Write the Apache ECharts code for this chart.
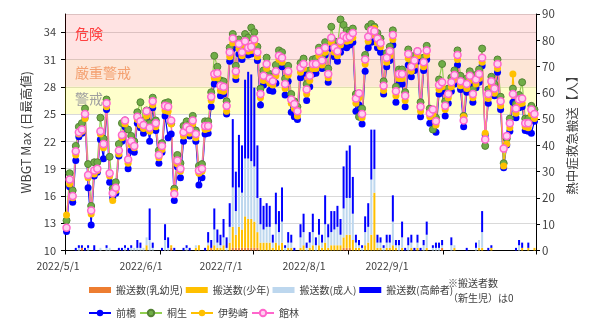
<!DOCTYPE html>
<html>
<head>
<meta charset="utf-8">
<script src="https://cdn.jsdelivr.net/npm/echarts@6/dist/echarts.min.js"></script>
<style>
html, body { margin: 0; padding: 0; background: #ffffff; }
#chart { width: 600px; height: 328px; }
</style>
</head>
<body>
<div id="chart"></div>
<script>
// Daily categories 2022/5/1 .. 2022/9/30
const months = [[5, 31], [6, 30], [7, 31], [8, 31], [9, 30]];
const dates = [];
for (const [m, n] of months) for (let d = 1; d <= n; d++) dates.push('2022/' + m + '/' + d);
const monthStartIdx = [0, 31, 61, 92, 123];
const dateTickLabels = ['2022/5/1', '2022/6/1', '2022/7/1', '2022/8/1', '2022/9/1'];

// WBGT daily maximum per city
const maebashi = [
  12.1,17.0,15.3,19.9,22.5,22.9,24.6,16.9,12.8,18.2,
  18.6,22.2,20.1,25.5,17.5,15.8,16.3,20.4,22.0,23.6,
  19.0,21.0,20.8,24.0,23.5,22.9,24.5,22.0,25.7,23.2,
  19.6,20.8,24.8,22.4,22.8,15.5,19.2,18.0,22.0,22.9,
  22.6,23.5,22.0,17.2,18.0,22.8,22.9,25.8,28.3,28.7,
  27.0,27.2,25.0,30.8,32.2,28.8,31.6,31.0,32.1,31.5,
  31.6,32.3,30.9,26.0,28.2,29.5,27.6,27.5,28.4,30.3,
  30.2,27.1,28.6,25.2,24.7,24.4,29.0,29.5,26.5,28.0,
  29.4,29.5,30.8,30.0,31.5,28.5,32.2,31.3,30.8,31.8,
  32.4,32.3,32.6,32.9,25.3,26.0,23.9,29.7,32.3,32.9,
  33.0,32.3,31.8,27.2,30.2,30.9,32.6,26.3,28.3,28.3,
  25.8,30.4,29.1,29.8,30.8,24.7,29.8,31.0,24.0,24.3,
  23.0,27.2,27.5,24.8,26.2,27.5,28.3,30.4,27.7,23.6,
  27.4,28.3,26.3,27.9,28.5,30.3,22.7,26.2,27.8,27.0,
  29.6,25.5,19.1,21.6,23.1,26.3,24.6,25.7,25.8,23.2,
  23.1,22.9,24.2
];
const kiryu = [
  13.3,18.5,16.6,21.5,23.6,24.0,25.6,19.5,14.9,19.7,
  19.7,24.6,22.3,26.6,20.3,16.8,17.5,21.7,24.0,24.3,
  23.3,22.6,22.0,25.2,26.3,24.3,25.4,24.0,26.8,24.3,
  21.0,21.8,26.2,26.3,24.0,16.8,20.5,19.6,23.7,24.2,
  23.9,24.8,23.2,19.3,19.5,24.2,24.2,27.4,31.4,30.2,
  28.7,28.6,26.4,32.3,33.8,30.3,33.2,32.4,33.8,33.4,
  34.5,34.0,32.4,27.8,29.8,31.2,29.4,29.1,30.4,32.0,
  31.8,28.9,30.3,27.2,26.4,25.8,30.6,31.1,28.3,29.8,
  31.0,31.1,32.3,31.4,32.9,30.0,34.6,33.0,32.5,35.4,
  34.8,34.2,34.0,34.4,27.2,24.7,25.6,31.5,34.6,34.9,
  34.6,33.9,33.3,28.6,31.7,32.4,34.2,28.0,29.9,29.9,
  27.4,32.1,30.8,31.4,31.9,26.3,31.2,32.5,25.6,23.3,
  24.6,28.8,30.5,26.4,27.8,29.0,29.8,32.0,29.2,24.8,
  28.9,29.7,27.7,29.3,29.9,32.2,21.5,27.7,29.1,28.3,
  31.0,26.9,19.6,22.3,24.5,27.8,26.1,27.1,28.5,24.5,
  24.5,25.9,25.5
];
const isesaki = [
  13.9,17.3,15.8,20.5,22.8,23.1,24.5,18.0,14.0,18.4,
  18.8,22.8,21.3,25.8,18.2,15.5,16.6,20.6,22.4,23.9,
  19.6,21.6,21.3,24.4,23.8,23.4,24.8,23.1,26.0,23.6,
  20.2,21.1,25.4,25.3,23.9,16.5,19.5,18.7,22.6,23.3,
  22.9,23.9,22.4,18.5,18.7,23.3,23.4,26.5,29.0,29.0,
  27.6,27.5,25.3,31.3,32.8,29.2,32.2,31.4,32.6,31.9,
  32.0,32.8,31.3,26.8,28.7,30.0,28.4,28.2,29.2,31.0,
  30.7,27.8,29.3,26.2,25.6,24.8,29.6,30.0,27.2,28.7,
  30.0,30.0,31.4,30.4,31.8,29.0,32.9,31.8,31.4,32.6,
  33.1,33.0,33.1,33.4,26.2,26.8,24.6,30.5,33.0,33.7,
  34.4,32.8,32.4,27.6,30.7,31.4,33.2,27.0,28.9,28.9,
  26.5,31.1,29.7,30.4,31.4,25.3,30.2,31.5,24.7,25.0,
  23.8,27.7,28.0,25.5,26.8,28.0,28.8,31.0,28.1,24.7,
  27.8,28.7,26.8,28.3,28.9,30.7,22.9,26.7,28.1,27.3,
  30.0,25.9,19.3,21.7,23.5,29.4,25.1,26.1,26.2,23.6,
  23.5,25.0,24.5
];
const tatebayashi = [
  12.5,17.8,16.0,20.9,23.0,23.3,25.0,18.3,14.4,18.8,
  19.0,23.1,21.7,26.2,18.5,16.3,16.9,21.0,22.7,24.3,
  20.0,22.0,21.5,24.7,24.2,23.8,25.3,23.5,26.4,24.0,
  20.5,21.5,25.9,25.8,24.3,16.2,19.9,19.0,23.0,23.6,
  23.3,24.3,22.8,18.8,19.0,23.7,23.7,26.9,29.4,29.5,
  28.1,28.0,25.9,31.8,33.3,29.7,32.7,31.8,33.0,32.3,
  32.4,33.2,31.8,27.2,29.2,30.5,28.9,28.6,29.7,31.4,
  31.2,28.3,29.7,26.6,26.1,25.3,30.1,30.5,27.7,29.2,
  30.5,30.5,31.9,30.9,32.3,29.4,33.4,32.3,31.9,33.0,
  33.6,33.4,33.5,33.9,26.7,27.3,25.0,31.0,33.5,34.2,
  34.1,33.3,32.8,28.1,31.2,31.9,33.7,27.5,29.4,29.4,
  27.0,31.6,30.2,30.9,31.9,25.8,30.7,32.0,25.1,25.5,
  24.2,28.2,28.5,25.9,27.2,28.5,29.3,31.5,28.6,24.3,
  28.3,29.2,27.2,28.8,29.4,31.2,22.2,27.2,28.6,27.8,
  30.5,26.4,21.2,22.6,24.0,27.2,25.6,26.6,26.7,24.0,
  24.0,25.5,25.0
];

// Heatstroke ambulance transports per day, by age group
const infant = [
  0,0,0,0,0,1,0,0,0,0, 0,0,0,0,0,0,0,0,0,0, 0,0,0,0,0,0,0,0,0,0,
  0,0,0,0,1,0,0,0,0,0, 0,0,0,0,0,0,0,1,0,0, 0,0,0,0,1,1,1,1,1,1,
  1,1,1,0,0,0,0,0,0,0, 0,0,0,0,0,0,0,0,0,0, 0,0,0,0,0,0,0,0,0,0,
  1,1,1,0,0,0,0,0,0,0, 0,0,0,0,0,0,0,0,0,0, 0,0,0,0,0,0,0,0,0,0,
  0,0,1,0,0,0,0,0,0,0, 0,0,0,0,0,0,0,0,0,0, 0,0,0,0,0,0,0,0,0,0,
  0,0,0
];
const youth = [
  0,0,0,0,0,0,0,0,0,0, 0,0,0,0,0,0,0,0,0,0, 0,0,0,0,0,0,2,0,0,0,
  0,0,0,0,1,0,0,0,0,0, 0,0,1,2,0,0,2,0,2,1, 1,2,0,3,8,5,8,7,12,11,
  11,10,6,3,3,3,3,1,3,2, 3,0,1,1,0,0,1,2,0,1, 2,0,2,1,3,1,2,2,2,2,
  4,5,5,4,1,1,0,2,3,6, 22,1,1,0,1,1,2,1,0,1, 0,0,1,0,1,0,0,1,0,0,
  0,0,0,0,0,0,1,0,0,0, 0,0,0,0,1,1,0,0,1,0, 0,0,0,0,0,0,0,0,1,0,
  1,0,1
];
const adult = [
  0,0,0,0,1,0,0,1,0,0, 0,1,0,1,1,0,0,0,0,1, 0,1,1,1,1,1,3,4,1,0,
  0,0,4,1,0,0,0,0,0,1, 0,0,1,0,0,0,1,0,6,2, 1,3,1,6,15,9,15,14,22,23,
  22,21,13,7,5,6,6,2,7,5, 8,1,2,2,0,0,4,5,1,2, 5,2,4,2,7,4,5,6,7,4,
  11,14,14,10,2,1,1,5,6,21, 9,2,2,1,2,2,9,1,2,4, 0,2,2,0,2,0,2,5,0,1,
  1,1,1,0,0,2,1,0,0,0, 0,0,0,1,3,6,0,0,0,0, 0,0,0,0,0,0,0,2,0,0,
  0,0,0
];
const elderly = [
  0,0,0,1,1,1,1,1,0,2, 0,0,0,1,0,0,0,1,1,1, 1,1,0,3,2,0,0,12,2,0,
  0,1,6,4,0,1,0,0,1,1, 1,0,0,0,0,1,4,3,8,5, 4,7,4,9,26,15,20,18,30,33,
  33,30,20,10,9,9,8,3,12,8, 13,1,4,3,1,0,5,7,2,4, 7,3,6,3,11,5,8,7,8,6,
  16,18,20,14,3,2,1,6,9,19, 15,3,2,1,3,3,10,2,2,6, 1,3,3,1,3,1,2,5,0,1,
  2,2,2,0,0,3,0,0,0,0, 1,0,0,2,0,8,0,1,1,0, 0,0,0,0,0,0,1,2,2,0,
  2,0,0
];

// WBGT warning bands [from, to, label]
const bands = [[31, 36, '危険'], [28, 31, '厳重警戒'], [25, 28, '警戒']];
const bandFill = ['rgba(255,0,0,0.11)', 'rgba(245,130,50,0.2)', 'rgba(255,255,0,0.2)'];
const bandText = ['#ff4040', '#f4a070', '#a0a0a0'];
const bandOffset = [[0, -3], [0, 0], [0, -2]];

const CJK = '"Noto Sans CJK JP", "Noto Sans", sans-serif';
const TXT = '#404040';

const barSeries = (name, data, color) => ({
  name, type: 'bar', data, stack: 'transport', yAxisIndex: 1, xAxisIndex: 0,
  barWidth: 2, itemStyle: { color }, emphasis: { disabled: true }
});
const lineSeries = (name, data, line, fill, border, bw) => ({
  name, type: 'line', data, yAxisIndex: 0, xAxisIndex: 0,
  symbol: 'circle', symbolSize: 7, showAllSymbol: true,
  lineStyle: { color: line, width: 1.2 },
  itemStyle: { color: fill, borderColor: border, borderWidth: bw },
  emphasis: { disabled: true }
});

const labelPos = [58, 141, 221, 304, 387];

const chart = echarts.init(document.getElementById('chart'), null, { renderer: 'canvas' });
chart.setOption({
  animation: false,
  textStyle: { fontFamily: CJK },
  grid: [
    { left: 65, right: 64, top: 14, bottom: 77.5 },
    { left: 0, right: 0, top: 14, bottom: 77.5 }
  ],
  legend: [
    {
      data: ['搬送数(乳幼児)', '搬送数(少年)', '搬送数(成人)', '搬送数(高齢者)'],
      left: 89, top: 285, padding: 0, itemWidth: 22, itemHeight: 6, itemGap: 3, itemTextGap: 3,
      icon: 'rect', selectedMode: false,
      textStyle: { fontSize: 10, color: TXT, fontFamily: CJK, width: 60 }
    },
    {
      data: ['前橋', '桐生', '伊勢崎', '館林'],
      left: 88, top: 308, padding: 0, itemWidth: 22, itemHeight: 8, itemGap: 3, itemTextGap: 3,
      selectedMode: false,
      textStyle: { fontSize: 10, color: TXT, fontFamily: CJK, width: 60 }
    }
  ],
  xAxis: [
    {
      type: 'category', data: dates, gridIndex: 0, boundaryGap: true,
      axisLine: { lineStyle: { color: '#000', width: 1 } },
      axisTick: { show: true, length: 4, lineStyle: { color: '#000' },
        interval: (i) => monthStartIdx.includes(i) },
      axisLabel: { show: false },
      splitLine: { show: false }
    },
    {
      type: 'value', gridIndex: 1, min: 0, max: 600,
      axisLine: { show: false }, axisTick: { show: false }, splitLine: { show: false },
      axisLabel: {
        customValues: labelPos, margin: 10,
        formatter: (v) => dateTickLabels[labelPos.indexOf(v)],
        fontSize: 10.5, color: TXT, fontFamily: CJK
      }
    }
  ],
  yAxis: [
    {
      type: 'value', min: 10, max: 36, interval: 3, gridIndex: 0,
      name: 'WBGT Max (日最高値)', nameLocation: 'middle', nameGap: 31,
      nameTextStyle: { fontSize: 12.5, color: TXT, fontFamily: CJK },
      axisLine: { show: true, lineStyle: { color: '#000' } },
      axisTick: { show: true, length: 4, lineStyle: { color: '#000' } },
      axisLabel: { fontSize: 11, color: TXT, margin: 9, showMaxLabel: false },
      splitLine: { show: true, lineStyle: { color: '#d9d9d9', width: 1 } }
    },
    {
      type: 'value', min: 0, max: 90, interval: 10, gridIndex: 0, position: 'right',
      name: '熱中症救急搬送【人】', nameLocation: 'middle', nameGap: 24,
      nameTextStyle: { fontSize: 12.5, color: TXT, fontFamily: CJK },
      axisLine: { show: true, lineStyle: { color: '#000' } },
      axisTick: { show: true, length: 4, lineStyle: { color: '#000' } },
      axisLabel: { fontSize: 11.5, color: TXT, margin: 6 },
      splitLine: { show: false }
    },
    { type: 'value', gridIndex: 1, min: 0, max: 1, show: false }
  ],
  series: [
    {
      name: 'bands', type: 'line', data: [], xAxisIndex: 0, yAxisIndex: 0,
      markArea: {
        silent: true,
        data: bands.map((b, i) => [
          {
            yAxis: b[0], itemStyle: { color: bandFill[i] },
            label: { show: true, position: 'insideLeft', distance: 10, offset: bandOffset[i],
              formatter: b[2], fontSize: 14, color: bandText[i], fontFamily: CJK }
          },
          { yAxis: b[1] }
        ])
      }
    },
    barSeries('搬送数(乳幼児)', infant, '#ed7d31'),
    barSeries('搬送数(少年)', youth, '#ffc000'),
    barSeries('搬送数(成人)', adult, '#bdd7ee'),
    barSeries('搬送数(高齢者)', elderly, '#0000ff'),
    lineSeries('前橋', maebashi, '#0000ff', '#0000ff', '#0000ff', 0),
    lineSeries('桐生', kiryu, '#92d050', '#70ad47', '#548235', 1),
    lineSeries('伊勢崎', isesaki, '#ffc000', '#ffc000', '#ffc000', 0),
    lineSeries('館林', tatebayashi, '#ff66cc', '#ffd0f0', '#ff66cc', 1.5)
  ],
  graphic: [
    {
      type: 'text', left: 448, top: 276,
      style: { text: '※搬送者数\n（新生児）は0', fontSize: 10, lineHeight: 15,
        fill: TXT, fontFamily: CJK }
    }
  ]
});
</script>
</body>
</html>
